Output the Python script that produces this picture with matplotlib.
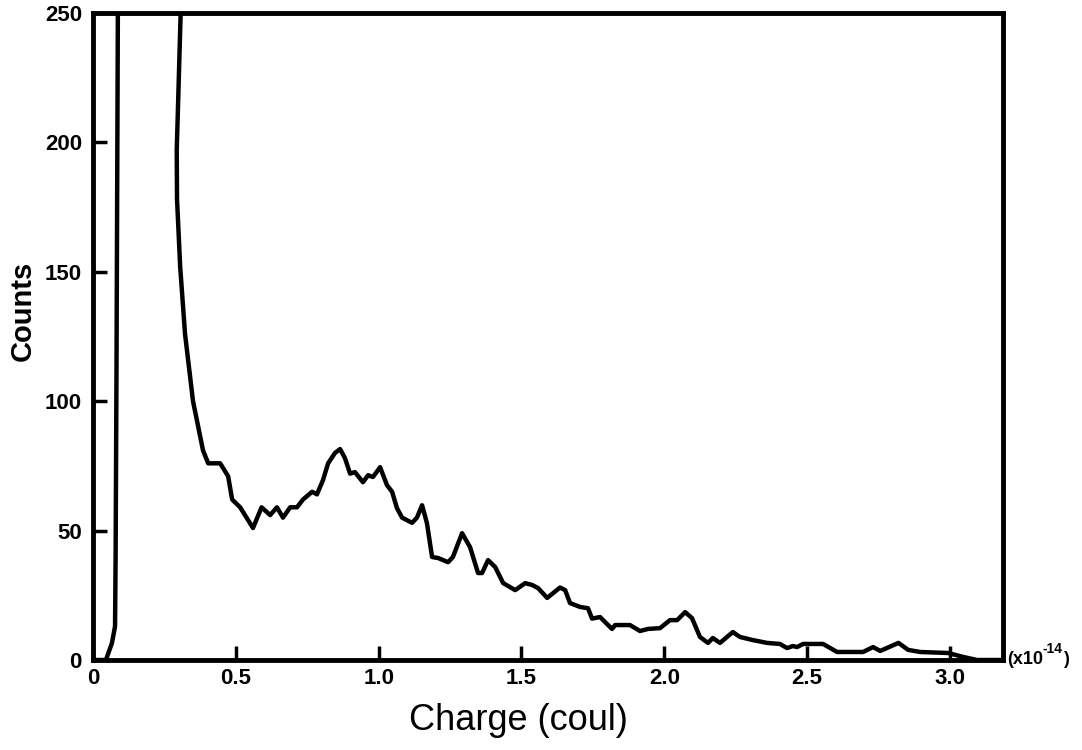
import matplotlib
matplotlib.use("Agg")
import matplotlib.pyplot as plt

# Data (charge in units of 1e-14 coul)
charge = [0.0, 0.045, 0.066, 0.077, 0.079, 0.082, 0.087, 0.308, 0.298, 0.293,
          0.294, 0.305, 0.322, 0.35, 0.385, 0.403, 0.445, 0.473, 0.487, 0.515,
          0.56, 0.59, 0.62, 0.644, 0.665, 0.69, 0.714, 0.735, 0.767, 0.784,
          0.805, 0.823, 0.847, 0.865, 0.882, 0.9, 0.917, 0.945, 0.963, 0.98,
          1.005, 1.029, 1.047, 1.064, 1.082, 1.117, 1.134, 1.152, 1.169, 1.187,
          1.208, 1.243, 1.26, 1.292, 1.32, 1.348, 1.362, 1.383, 1.408, 1.436,
          1.478, 1.513, 1.537, 1.558, 1.59, 1.635, 1.653, 1.67, 1.705, 1.733,
          1.747, 1.775, 1.817, 1.828, 1.88, 1.915, 1.943, 1.985, 2.02, 2.045,
          2.073, 2.097, 2.125, 2.153, 2.17, 2.195, 2.24, 2.265, 2.31, 2.36,
          2.405, 2.43, 2.45, 2.465, 2.486, 2.556, 2.605, 2.696, 2.731, 2.756,
          2.82, 2.854, 2.896, 2.994, 3.046, 3.095, 3.18]
counts = [0, 0, 6.5, 13, 40, 110, 255, 255, 216, 197,
          178, 152, 126, 100, 81, 76, 76, 71, 62, 59,
          51, 59, 56, 59, 55, 59, 59, 62, 65, 64,
          69.5, 76, 80, 81.5, 78, 72, 72.6, 68.7, 71.4, 70.7,
          74.5, 67.6, 65, 58.7, 55, 53, 55, 59.8, 52.9, 39.8,
          39.4, 37.8, 39.8, 49, 43.6, 33.6, 33.6, 38.6, 35.9, 29.7,
          27, 29.7, 29, 27.8, 24, 28, 27, 22, 20.5, 20,
          16, 16.6, 12, 13.5, 13.5, 11.2, 12, 12.3, 15.4, 15.4,
          18.5, 16.2, 8.9, 6.6, 8.5, 6.6, 10.8, 8.9, 7.7, 6.6,
          6.2, 4.6, 5.4, 5.0, 6.2, 6.2, 3.1, 3.1, 5.0, 3.5,
          6.6, 3.9, 3.1, 2.7, 1.2, 0, 0]

x_ticks = [0, 0.5, 1.0, 1.5, 2.0, 2.5, 3.0]
x_tick_labels = ["0", "0.5", "1.0", "1.5", "2.0", "2.5", "3.0"]
y_ticks = [0, 50, 100, 150, 200, 250]
y_tick_labels = ["0", "50", "100", "150", "200", "250"]

plt.rcParams['font.family'] = ['Liberation Sans', 'DejaVu Sans']

fig = plt.figure(figsize=(10.82, 7.5), dpi=100)
ax = fig.add_axes([0.086, 0.12, 0.841, 0.8627])

ax.plot(charge, counts, color='black', lw=3.2, solid_joinstyle='round',
        solid_capstyle='round')

ax.set_xlim(0, 3.186)
ax.set_ylim(0, 250)

for s in ax.spines.values():
    s.set_linewidth(3.5)

ax.set_xticks(x_ticks)
ax.set_xticklabels(x_tick_labels, fontweight='bold', fontsize=16)
ax.set_yticks(y_ticks)
ax.set_yticklabels(y_tick_labels, fontweight='bold', fontsize=16)
ax.tick_params(direction='in', length=10, width=2.5, pad=8)
ax.tick_params(axis='x', pad=6)

ax.set_xlabel("Charge (coul)", fontsize=26)
ax.xaxis.set_label_coords(0.467, -0.066)
ax.set_ylabel("Counts", fontsize=21, fontweight='bold')
ax.yaxis.set_label_coords(-0.062, 0.54)

t1 = ax.text(1.004, 0.0, "(x10", transform=ax.transAxes,
             fontsize=13, fontweight='bold', ha='left', va='center')
t2 = ax.annotate("-14", xy=(1.0, 0.75), xycoords=t1, fontsize=10,
                 fontweight='bold', ha='left', va='bottom')
ax.annotate(")", xy=(1.0, 0.5), xycoords=(t2, t1), fontsize=13,
            fontweight='bold', ha='left', va='center')

fig.savefig("out.png", dpi=100)
